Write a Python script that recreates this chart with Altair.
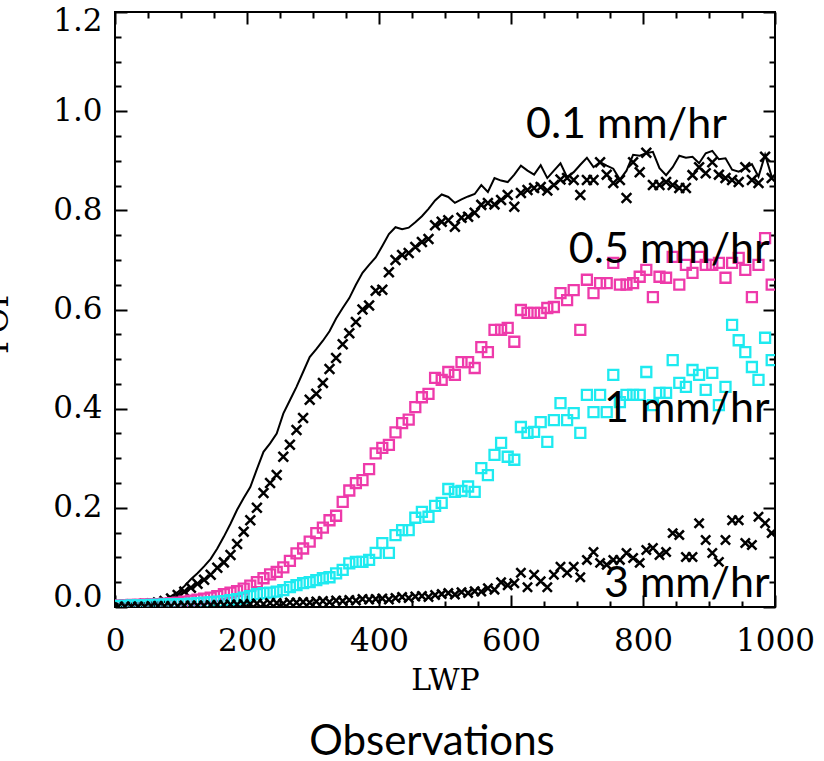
import altair as alt
import pandas as pd

# ---- data ----
lwp_bins = list(range(5, 1000, 10))  # bin centres of LWP

model_01 = [0.005, 0.005, 0.005, 0.006, 0.007, 0.009, 0.012, 0.016, 0.022, 0.03,
            0.042, 0.056, 0.068, 0.082, 0.097, 0.118, 0.142, 0.168, 0.196, 0.22,
            0.242, 0.278, 0.313, 0.33, 0.35, 0.39, 0.417, 0.444, 0.474, 0.504,
            0.52, 0.537, 0.556, 0.582, 0.603, 0.623, 0.65, 0.674, 0.69, 0.705,
            0.728, 0.752, 0.766, 0.762, 0.765, 0.776, 0.788, 0.803, 0.82, 0.832,
            0.827, 0.815, 0.822, 0.828, 0.833, 0.851, 0.837, 0.865, 0.86, 0.857,
            0.872, 0.89, 0.88, 0.872, 0.891, 0.865, 0.88, 0.895, 0.867, 0.877,
            0.892, 0.906, 0.887, 0.897, 0.89, 0.884, 0.862, 0.88, 0.912, 0.91,
            0.915, 0.918, 0.885, 0.871, 0.887, 0.91, 0.906, 0.908, 0.895, 0.915,
            0.92, 0.903, 0.905, 0.882, 0.878, 0.885, 0.893, 0.868, 0.912, 0.868]

obs_01 = [0.004, 0.004, 0.005, 0.005, 0.006, 0.007, 0.009, 0.012, 0.017, 0.024,
          0.031, 0.039, 0.047, 0.055, 0.065, 0.079, 0.09, 0.105, 0.127, 0.152,
          0.175, 0.2, 0.23, 0.25, 0.266, 0.303, 0.327, 0.357, 0.381, 0.418,
          0.43, 0.452, 0.48, 0.502, 0.53, 0.552, 0.575, 0.6, 0.608, 0.638,
          0.64, 0.675, 0.7, 0.71, 0.714, 0.726, 0.736, 0.742, 0.77, 0.777,
          0.78, 0.767, 0.785, 0.787, 0.795, 0.811, 0.815, 0.812, 0.821, 0.831,
          0.807, 0.835, 0.841, 0.845, 0.847, 0.84, 0.851, 0.862, 0.865, 0.861,
          0.831, 0.861, 0.861, 0.897, 0.872, 0.855, 0.861, 0.825, 0.897, 0.877,
          0.916, 0.851, 0.851, 0.857, 0.851, 0.845, 0.845, 0.871, 0.887, 0.875,
          0.897, 0.872, 0.865, 0.861, 0.857, 0.887, 0.861, 0.855, 0.908, 0.865]

obs_05 = [0.003, 0.003, 0.004, 0.004, 0.005, 0.005, 0.006, 0.007, 0.008, 0.009,
          0.011, 0.013, 0.015, 0.017, 0.019, 0.022, 0.026, 0.029, 0.032, 0.037,
          0.043, 0.05, 0.058, 0.066, 0.071, 0.08, 0.093, 0.108, 0.118, 0.132,
          0.149, 0.16, 0.175, 0.184, 0.212, 0.235, 0.25, 0.256, 0.278, 0.31,
          0.321, 0.327, 0.352, 0.371, 0.378, 0.403, 0.423, 0.43, 0.462, 0.458,
          0.474, 0.468, 0.494, 0.494, 0.482, 0.524, 0.514, 0.559, 0.559, 0.563,
          0.535, 0.599, 0.593, 0.593, 0.593, 0.603, 0.605, 0.633, 0.619, 0.639,
          0.559, 0.66, 0.633, 0.653, 0.653, 0.694, 0.65, 0.65, 0.653, 0.666,
          0.68, 0.625, 0.666, 0.664, 0.706, 0.65, 0.69, 0.674, 0.706, 0.69,
          0.69, 0.694, 0.664, 0.694, 0.704, 0.68, 0.625, 0.69, 0.744, 0.65]

obs_1 = [0.002, 0.002, 0.003, 0.003, 0.003, 0.004, 0.004, 0.005, 0.005, 0.006,
         0.006, 0.007, 0.008, 0.009, 0.01, 0.011, 0.012, 0.014, 0.016, 0.019,
         0.022, 0.026, 0.028, 0.029, 0.031, 0.034, 0.04, 0.044, 0.048, 0.05,
         0.054, 0.058, 0.06, 0.068, 0.075, 0.088, 0.091, 0.091, 0.095, 0.109,
         0.129, 0.109, 0.145, 0.155, 0.155, 0.18, 0.192, 0.182, 0.204, 0.21,
         0.238, 0.232, 0.234, 0.243, 0.232, 0.28, 0.266, 0.307, 0.331, 0.303,
         0.297, 0.363, 0.351, 0.353, 0.373, 0.333, 0.377, 0.411, 0.377, 0.391,
         0.351, 0.428, 0.393, 0.428, 0.393, 0.468, 0.413, 0.428, 0.428, 0.428,
         0.474, 0.407, 0.432, 0.432, 0.498, 0.452, 0.444, 0.478, 0.468, 0.438,
         0.472, 0.407, 0.444, 0.569, 0.538, 0.514, 0.484, 0.458, 0.543, 0.498]

obs_3 = [0.001, 0.001, 0.001, 0.001, 0.001, 0.002, 0.002, 0.002, 0.002, 0.002,
         0.003, 0.003, 0.003, 0.003, 0.004, 0.004, 0.004, 0.005, 0.005, 0.006,
         0.006, 0.007, 0.006, 0.008, 0.008, 0.007, 0.009, 0.009, 0.01, 0.009,
         0.011, 0.012, 0.01, 0.013, 0.012, 0.014, 0.013, 0.016, 0.015, 0.016,
         0.017, 0.015, 0.018, 0.02, 0.018, 0.021, 0.022, 0.02, 0.024, 0.026,
         0.028, 0.025, 0.03, 0.028, 0.032, 0.031, 0.038, 0.035, 0.05, 0.044,
         0.048, 0.069, 0.04, 0.065, 0.052, 0.04, 0.065, 0.081, 0.069, 0.081,
         0.06, 0.095, 0.111, 0.089, 0.085, 0.095, 0.095, 0.109, 0.099, 0.089,
         0.115, 0.119, 0.105, 0.111, 0.149, 0.145, 0.101, 0.101, 0.169, 0.135,
         0.109, 0.091, 0.135, 0.175, 0.175, 0.129, 0.125, 0.182, 0.169, 0.149]

rate_labels = ["0.1 mm/hr", "0.5 mm/hr", "1 mm/hr", "3 mm/hr"]
rate_label_lwp = [927, 992, 992, 992]
rate_label_pop = [0.946, 0.694, 0.373, 0.020]

x_major = [0, 200, 400, 600, 800, 1000]
x_minor = [50, 100, 150, 250, 300, 350, 450, 500, 550, 650, 700, 750, 850, 900, 950]
y_major = [0.0, 0.2, 0.4, 0.6, 0.8, 1.0, 1.2]
y_minor = [0.05, 0.1, 0.15, 0.25, 0.3, 0.35, 0.45, 0.5, 0.55, 0.65, 0.7, 0.75,
           0.85, 0.9, 0.95, 1.05, 1.1, 1.15]

df = pd.DataFrame({"LWP": lwp_bins, "model": model_01, "o01": obs_01,
                   "o05": obs_05, "o1": obs_1, "o3": obs_3})
lab = pd.DataFrame({"t": rate_labels, "x": rate_label_lwp, "y": rate_label_pop})

W, H = 660, 595
SERIF = "DejaVu Serif"
xs = alt.Scale(domain=[0, 1000], nice=False, zero=False)
ys = alt.Scale(domain=[0, 1.2], nice=False, zero=False)

CROSS = "M-1,-1L1,1M-1,1L1,-1"
PINK = "#EE3AAA"
CYAN = "#1EEAF0"


def tick_axis(orient, values, size, offset):
    return alt.Axis(orient=orient, values=values, labels=False, domain=False,
                    grid=False, ticks=True, tickSize=size, tickWidth=2,
                    tickColor="black", offset=offset, title=None)


x_lab_axis = alt.Axis(orient="bottom", values=x_major, format="d", ticks=False,
                      tickSize=0, domain=False, grid=False, labelFont=SERIF,
                      labelFontSize=31, labelColor="black", labelPadding=19,
                      labelFlush=False, labelOverlap=False,
                      title="LWP", titleFont=SERIF, titleFontSize=30,
                      titleFontWeight="normal", titleColor="black", titlePadding=9)
y_lab_axis = alt.Axis(orient="left", values=y_major, format=".1f", ticks=False,
                      tickSize=0, domain=False, grid=False, labelFont=SERIF,
                      labelFontSize=31, labelColor="black", labelPadding=13,
                      labelFlush=True, labelFlushOffset=6, labelOverlap=False,
                      title="POP", titleFont=SERIF,
                      titleFontSize=31, titleFontWeight="normal", titleColor="black",
                      titleAngle=270, titleX=-108, titleY=308,
                      titleBaseline="alphabetic", titleAlign="center")

base = alt.Chart(df)

line = base.mark_line(color="black", strokeWidth=2, clip=True).encode(
    x=alt.X("LWP:Q", scale=xs, axis=x_lab_axis),
    y=alt.Y("model:Q", scale=ys, axis=y_lab_axis),
)

cross01 = base.mark_point(shape=CROSS, filled=False, color="black", size=95,
                          strokeWidth=2.5, opacity=1, clip=True).encode(
    x=alt.X("LWP:Q", scale=xs, axis=tick_axis("top", x_major, 12, -H)),
    y=alt.Y("o01:Q", scale=ys, axis=tick_axis("right", y_major, 12, -W)),
)

pink = base.mark_point(shape="square", filled=False, color=PINK, size=100,
                       strokeWidth=2.3, opacity=1, clip=True).encode(
    x=alt.X("LWP:Q", scale=xs, axis=tick_axis("top", x_minor, 6, -H)),
    y=alt.Y("o05:Q", scale=ys, axis=tick_axis("right", y_minor, 6, -W)),
)

cyan = base.mark_point(shape="square", filled=False, color=CYAN, size=100,
                       strokeWidth=2.3, opacity=1, clip=True).encode(
    x=alt.X("LWP:Q", scale=xs, axis=tick_axis("bottom", x_major, 12, -H)),
    y=alt.Y("o1:Q", scale=ys, axis=tick_axis("left", y_major, 12, -W)),
)

cross3 = base.mark_point(shape=CROSS, filled=False, color="black", size=85,
                         strokeWidth=2.5, opacity=1, clip=True).encode(
    x=alt.X("LWP:Q", scale=xs, axis=tick_axis("bottom", x_minor, 6, -H)),
    y=alt.Y("o3:Q", scale=ys, axis=tick_axis("left", y_minor, 6, -W)),
)

texts = alt.Chart(lab).mark_text(align="right", baseline="alphabetic",
                                 font="Lato", fontSize=43, color="black").encode(
    x=alt.X("x:Q", scale=xs, axis=None),
    y=alt.Y("y:Q", scale=ys, axis=None),
    text="t:N",
)

chart = alt.layer(line, cross01, pink, cyan, cross3, texts).resolve_axis(
    x="independent", y="independent"
).properties(
    width=W, height=H,
    title=alt.TitleParams(text="Observations", orient="bottom", frame="group",
                          anchor="middle", font="Lato", fontSize=42,
                          fontWeight="normal", color="black", offset=27, dx=-13),
    autosize=alt.AutoSizeParams(type="none"),
    padding={"left": 115, "top": 12, "right": 49, "bottom": 154},
    background="white",
).configure_view(stroke="black", strokeWidth=2)

chart.save("out.html", embed_options={"renderer": "svg", "actions": False})
